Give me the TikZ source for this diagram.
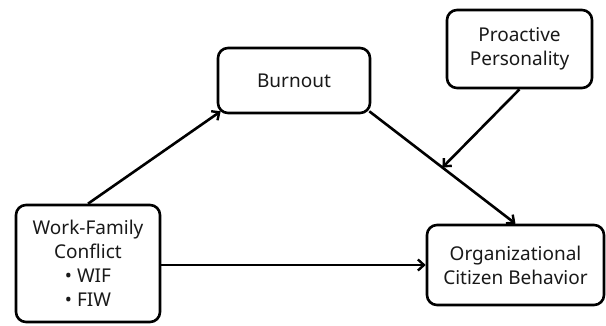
\documentclass[tikz,border=0pt]{standalone}
\usepackage{fontspec}
\setmainfont{Noto Sans}
\usetikzlibrary{arrows.meta,calc}
\begin{document}
\begin{tikzpicture}[x=1pt,y=-1pt,
  box/.style={draw,line width=2.6pt,rounded corners=10pt,align=center,inner sep=0pt,
    font=\fontsize{19}{24}\selectfont,text=black!90},
  conn/.style={line width=2.6pt,-{Straight Barb[length=6pt,width=11pt,line width=2.4pt]}}]
\useasboundingbox[fill=white] (0,0) rectangle (606,325);
\node[box,minimum width=144pt,minimum height=117pt] (wfc) at (88,263.5) {Work-Family\\Conflict\\\textbullet\ WIF\\\textbullet\ FIW};
\node[box,minimum width=152pt,minimum height=65pt] (burn) at (294,80.5) {Burnout};
\node[box,minimum width=145pt,minimum height=78pt] (pro) at (519.5,49) {Proactive\\Personality};
\node[box,minimum width=177pt,minimum height=80pt] (ocb) at (515.5,265) {Organizational\\Citizen Behavior};
\coordinate (bs) at ($(burn.south east)+(-2,-3)$);
\coordinate (m) at ($(bs)!0.5!(ocb.north)$);
\coordinate (bt) at ($(burn.south west)+(4,-3)$);
\draw[conn] (wfc.north) -- (bt);
\draw[conn] (bs) -- (ocb.north);
\draw[conn] (pro.south) -- (m);
\draw[conn] (wfc.east |- ocb.west) -- (ocb.west);
\end{tikzpicture}
\end{document}
